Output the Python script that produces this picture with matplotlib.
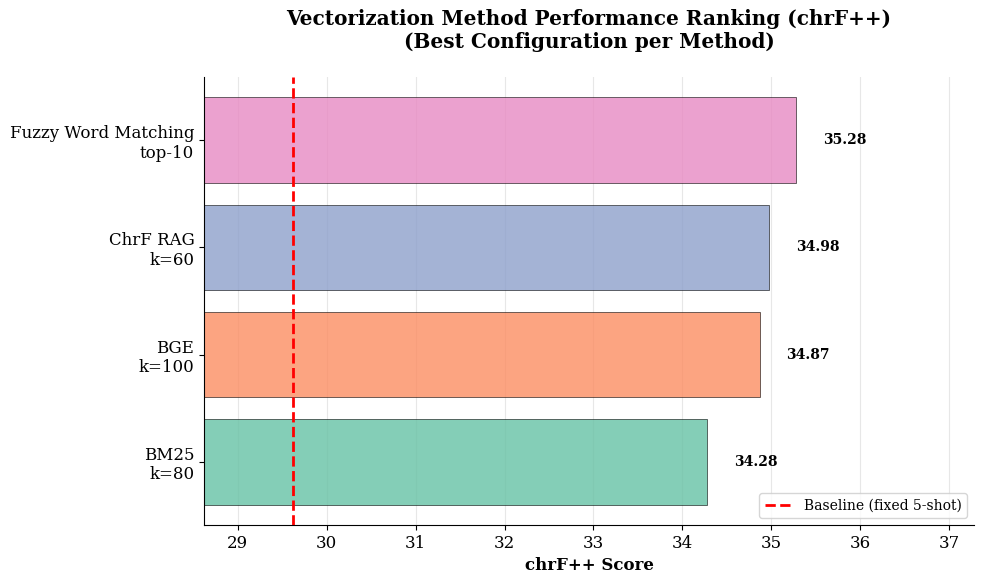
import matplotlib
matplotlib.use("Agg")
import matplotlib.pyplot as plt

plt.rcParams['font.family'] = ['DejaVu Serif']

methods = ["BM25\nk=80", "BGE\nk=100", "ChrF RAG\nk=60", "Fuzzy Word Matching\ntop-10"]
scores = [34.28, 34.87, 34.98, 35.28]
colors = ["#66c2a5", "#fc8d62", "#8da0cb", "#e78ac3"]
baseline = 29.62

fig, ax = plt.subplots(figsize=(9.84, 5.84), dpi=100)
fig.subplots_adjust(left=0.2073, right=0.9898, top=0.868, bottom=0.101)

ax.barh(range(len(methods)), scores, height=0.8, color=colors, alpha=0.8,
        edgecolor="black", linewidth=0.5, zorder=2)
ax.axvline(baseline, color="red", linestyle="--", linewidth=2,
           label="Baseline (fixed 5-shot)", zorder=3)

for i, v in enumerate(scores):
    ax.text(v + 0.3, i, f"{v:.2f}", va="center", ha="left",
            fontsize=10, fontweight="bold")

ax.set_yticks(range(len(methods)))
ax.set_yticklabels(methods, fontsize=12)
ax.tick_params(axis="x", labelsize=12)
ax.set_xlim(baseline - 1, max(scores) + 2)
ax.set_xlabel("chrF++ Score", fontsize=12, fontweight="bold")
ax.set_title("Vectorization Method Performance Ranking (chrF++)\n(Best Configuration per Method)",
             fontsize=14.4, fontweight="bold", pad=21)
ax.grid(axis="x", alpha=0.3, zorder=0)
ax.set_axisbelow(True)
ax.spines["top"].set_visible(False)
ax.spines["right"].set_visible(False)
ax.legend(loc="lower right", fontsize=10)

fig.savefig("out.png", dpi=100)
